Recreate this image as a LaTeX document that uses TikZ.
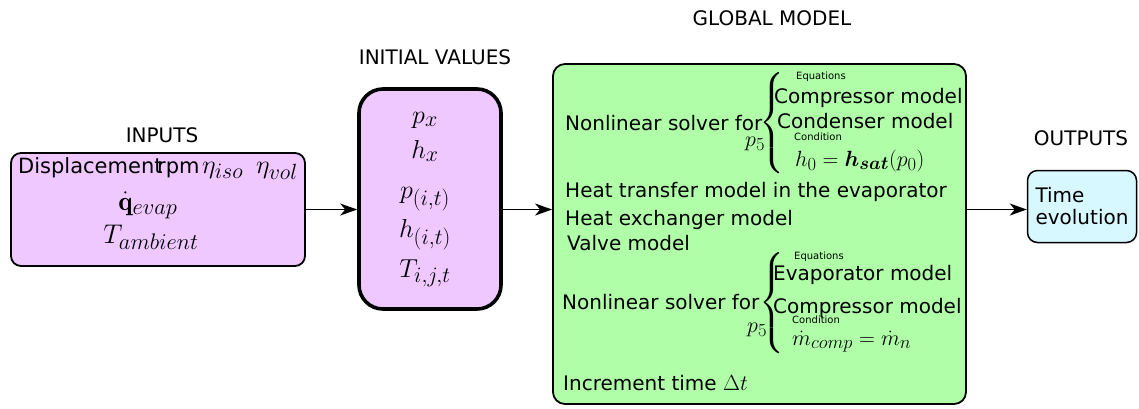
\RequirePackage{fix-cm}
\documentclass[tikz,border=0pt]{standalone}
\usepackage{amsmath,amssymb}
\usepackage{fontspec}
\usepackage{xcolor}
\usepackage{tikz}
\usetikzlibrary{arrows.meta}

\newfontfamily\dejavu{DejaVu Sans}

% math sizes used in the boxes (large subscripts)
\DeclareMathSizes{22}{22}{18.5}{13}
\DeclareMathSizes{26}{26}{22}{16}
\DeclareMathSizes{27}{27}{22.5}{16}

\definecolor{inviolet}{HTML}{EEC8FF}
\definecolor{modelgreen}{HTML}{B0FFA8}
\definecolor{outcyan}{HTML}{D8F8FF}

\begin{document}
\begin{tikzpicture}[x=1pt, y=-1pt,
    inbox/.style={rectangle, rounded corners=10pt, draw=black, line width=1.8pt,
                  fill=inviolet},
    initbox/.style={rectangle, rounded corners=24pt, draw=black, line width=3.6pt,
                    fill=inviolet},
    modelbox/.style={rectangle, rounded corners=12pt, draw=black, line width=1.8pt,
                     fill=modelgreen},
    outbox/.style={rectangle, rounded corners=10pt, draw=black, line width=1.5pt,
                   fill=outcyan, inner sep=0pt, align=left,
                   font=\dejavu\fontsize{20}{22}\selectfont},
    headtext/.style={font=\dejavu\fontsize{20}{24}\selectfont, anchor=base, inner sep=0pt},
    txt/.style={font=\dejavu\fontsize{20}{24}\selectfont, anchor=base west, inner sep=0pt},
    intxt/.style={font=\dejavu\fontsize{21}{25}\selectfont, anchor=base west, inner sep=0pt},
    smalltag/.style={font=\dejavu\fontsize{10}{12}\selectfont, anchor=base west, inner sep=0pt},
    mth/.style={font=\fontsize{22}{26}\selectfont, anchor=base west, inner sep=0pt},
    initmth/.style={font=\fontsize{26}{30}\selectfont, anchor=base, inner sep=0pt},
    bracenode/.style={font=\fontsize{28}{32}\selectfont, inner sep=0pt},
    arrow/.style={-{Stealth[length=17pt, width=12pt, inset=5pt]}, line width=1.6pt}
]
    \useasboundingbox (0,0) rectangle (1139,408);

    % Boxes
    \node[inbox, minimum width=294pt, minimum height=113pt] (inputs) at (158,209.5) {};
    \node[initbox, minimum width=142pt, minimum height=220pt] (initval) at (430,199) {};
    \node[modelbox, minimum width=413pt, minimum height=340pt] (model) at (759.5,234) {};
    \node[outbox, minimum width=109pt, minimum height=72pt] (outputs) at (1082,206.5)
        {Time\\evolution};

    % Headings
    \node[headtext] (inhead) at (162,142) {INPUTS};
    \node[headtext] (inithead) at (435,64) {INITIAL VALUES};
    \node[headtext] (modelhead) at (772,25) {GLOBAL MODEL};
    \node[headtext] (outhead) at (1081,145) {OUTPUTS};

    % Inputs
    \node[intxt] (disp) at (18,173) {Displacement};
    \node[intxt] (rpm) at (157,173) {rpm};
    \node[mth, font=\fontsize{26}{30}\selectfont] (etaiso) at (202,173) {$\eta_{iso}$};
    \node[mth, font=\fontsize{26}{30}\selectfont] (etavol) at (256,173) {$\eta_{vol}$};
    \node[initmth, font=\fontsize{27}{32}\selectfont] (qevap) at (148,210) {$\dot{\mathbf{q}}_{evap}$};
    \node[initmth, font=\fontsize{27}{32}\selectfont] (tamb) at (151,243) {$T_{ambient}$};

    % Initial values
    \node[initmth] (px) at (425,123) {$p_x$};
    \node[initmth] (hx) at (425,158) {$h_x$};
    \node[initmth] (pit) at (425,198) {$p_{(i,t)}$};
    \node[initmth] (hit) at (425,237) {$h_{(i,t)}$};
    \node[initmth] (tijt) at (425,277) {$T_{i,j,t}$};

    % Global model: first solver
    \node[txt] (solveA) at (565,130) {Nonlinear solver for};
    \node[mth] (pfiveA) at (745,146) {$p_5$};
    \node[bracenode] (braceA) at (773,123)
        {$\left\{\vrule height 41pt depth 41pt width 0pt\right.$};
    \node[smalltag] (eqA) at (796,79) {Equations};
    \node[txt] (compA) at (774,103) {Compressor model};
    \node[txt] (condA) at (777,128) {Condenser model};
    \node[smalltag] (cndA) at (794,140) {Condition};
    \node[mth] (hsat) at (795,166) {$h_0 = \boldsymbol{h_{sat}}(p_0)$};

    % Global model: single models
    \node[txt] (heat) at (565,197) {Heat transfer model in the evaporator};
    \node[txt] (hexch) at (565,225) {Heat exchanger model};
    \node[txt] (valve) at (567,250) {Valve model};

    % Global model: second solver
    \node[txt] (solveB) at (562,309) {Nonlinear solver for};
    \node[mth] (pfiveB) at (747,332) {$p_5$};
    \node[bracenode] (braceB) at (773,303)
        {$\left\{\vrule height 41pt depth 41pt width 0pt\right.$};
    \node[smalltag] (eqB) at (794,259) {Equations};
    \node[txt] (evapB) at (773,280) {Evaporator model};
    \node[txt] (compB) at (773,313) {Compressor model};
    \node[smalltag] (cndB) at (792,323) {Condition};
    \node[mth] (mdot) at (792,345) {$\dot{m}_{comp} = \dot{m}_n$};

    \node[txt] (incr) at (563,390) {Increment time {\fontsize{22}{26}\selectfont$\Delta t$}};

    % Arrows
    \draw[arrow] (inputs.east) -- (inputs.east -| initval.west);
    \draw[arrow] (initval.east |- inputs.east) -- (model.west |- inputs.east);
    \draw[arrow] (model.east |- inputs.east) -- (outputs.west |- inputs.east);
\end{tikzpicture}
\end{document}
